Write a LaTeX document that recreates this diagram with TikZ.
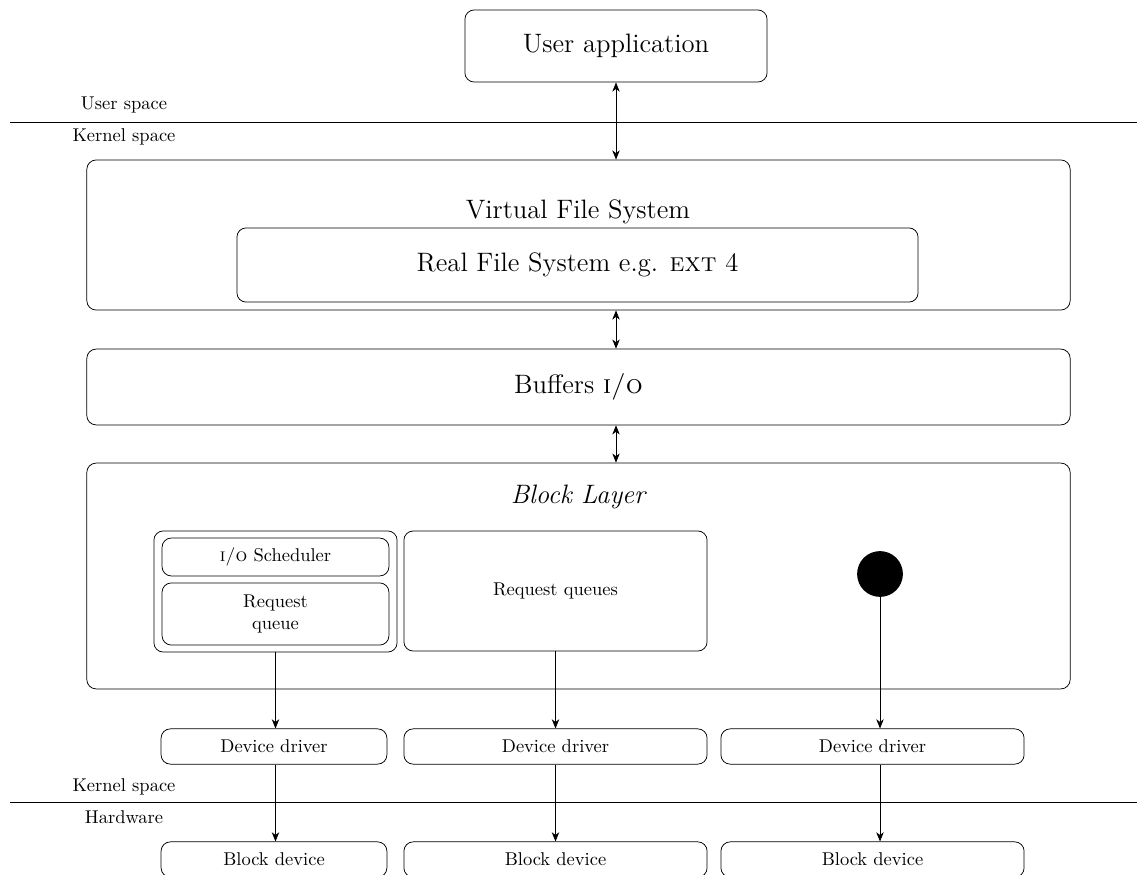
\documentclass[tikz,border=0pt]{standalone}
\usepackage{amsmath}
\usetikzlibrary{arrows.meta}

\begin{document}
\begin{tikzpicture}[x=0.019cm, y=-0.019cm,
		>={Stealth[length=5pt,width=4pt,inset=1.5pt]},
		box/.style={draw, rounded corners=5pt, inner sep=0pt, align=center},
		layer/.style={box, minimum width=18.68cm},
		small/.style={box, minimum width=4.31cm},
		wide/.style={box, minimum width=5.76cm}]

		\useasboundingbox (0,0) rectangle (1137,875);

		% user application and the user/kernel split
		\node[box, minimum width=5.74cm, minimum height=1.37cm, font=\Large] (app) at (616,46) {User application};
		\coordinate (uk-w) at (10,122);
		\coordinate (uk-m) at (237,122);
		\coordinate (uk-e) at (1137,122);
		\draw (uk-w) -- (uk-e);
		\draw (uk-w) -- (uk-m);
		\node (user) at (124,105) {User space};
		\node (kern) at (124,137) {Kernel space};

		% file systems
		\node[layer, minimum height=2.85cm] (vfs) at (578.5,235) {};
		\node[font=\Large] (vfs-t) at (578,212) {Virtual File System};
		\node[box, minimum width=12.94cm, minimum height=1.41cm, font=\Large] (rfs) at (577.5,265) {Real File System e.g. \textsc{ext} 4};

		% buffers
		\node[layer, minimum height=1.44cm, font=\Large] (buf) at (578.5,387) {Buffers \textsc{i/o}};

		% block layer
		\node[layer, minimum height=4.29cm] (blk) at (578.5,576) {};
		\node[font=\Large\itshape] (blk-t) at (578,497) {Block Layer};
		\node[box, minimum width=4.62cm, minimum height=2.30cm] (sched) at (275.5,591.5) {};
		\node[small, minimum height=0.72cm] (ios) at (275.5,557) {\textsc{i/o} Scheduler};
		\node[small, minimum height=1.18cm] (rq) at (275.5,614) {Request\\queue};
		\node[wide, minimum height=2.28cm] (rqs) at (555.5,591) {Request queues};
		\node[circle, fill=black, minimum size=0.87cm, inner sep=0pt] (dot) at (880,574) {};

		% drivers
		\node[box, minimum width=4.29cm, minimum height=0.67cm] (drv1) at (274,746.5) {Device driver};
		\node[wide, minimum height=0.67cm] (drv2) at (555.5,746.5) {Device driver};
		\node[wide, minimum height=0.67cm] (drv3) at (872.5,746.5) {Device driver};

		% kernel/hardware split
		\coordinate (kh-w) at (10,802);
		\coordinate (kh-m) at (237,802);
		\coordinate (kh-e) at (1137,802);
		\draw (kh-w) -- (kh-e);
		\draw (kh-w) -- (kh-m);
		\node (kern2) at (124,787) {Kernel space};
		\node (hw) at (124,817) {Hardware};

		% devices
		\node[box, minimum width=4.29cm, minimum height=0.67cm] (dev1) at (274,859.5) {Block device};
		\node[wide, minimum height=0.67cm] (dev2) at (555.5,859.5) {Block device};
		\node[wide, minimum height=0.67cm] (dev3) at (872.5,859.5) {Block device};

		% arrows
		\draw[<->] (app.south) -- (app.south |- vfs.north);
		\draw[<->] (app.south |- vfs.south) -- (app.south |- buf.north);
		\draw[<->] (app.south |- buf.south) -- (app.south |- blk.north);

		\draw[->] (sched.south) -- (sched.south |- drv1.north);
		\draw[->] (rqs.south) -- (rqs.south |- drv2.north);
		\draw[->] (dot) -- (dot |- drv3.north);

		\draw[->] (sched.south |- drv1.south) -- (sched.south |- dev1.north);
		\draw[->] (rqs.south |- drv2.south) -- (rqs.south |- dev2.north);
		\draw[->] (dot |- drv3.south) -- (dot |- dev3.north);

\end{tikzpicture}
\end{document}
